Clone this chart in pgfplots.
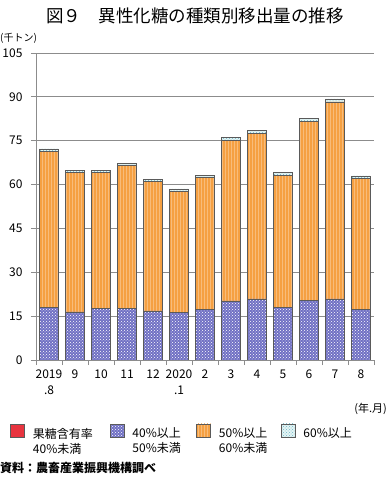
\documentclass[border=0pt]{standalone}
\usepackage{pgfplots}
\pgfplotsset{compat=1.18}
\usetikzlibrary{patterns}
\usepackage{fontspec}
\setmainfont{Noto Sans CJK JP}
\definecolor{gridc}{HTML}{8C8C8C}
\definecolor{redc}{HTML}{E8343F}
\definecolor{bluec}{HTML}{7070C4}
\definecolor{orangec}{HTML}{F5A042}
\definecolor{orangel}{HTML}{F8BC7A}
\definecolor{cyanf}{HTML}{E4F4F4}
\definecolor{cyanp}{HTML}{70B8C8}
\definecolor{edgec}{HTML}{5A5A5A}
\pgfplotsset{legsq/.style={legend image code/.code={\draw[##1] (0pt,-10.5pt) rectangle (14pt,2.5pt);}}}
\begin{document}
\begin{tikzpicture}[x=1pt,y=1pt]
\path[use as bounding box] (0,0) rectangle (388,479);
\begin{axis}[
  at={(36pt,119pt)}, anchor=south west,
  scale only axis, width=338pt, height=307pt,
  ybar stacked, bar width=19pt,
  xmin=-0.5, xmax=12.5, ymin=0, ymax=105,
  ytick={0,15,...,105},
  xtick={0,...,12},
  xticklabels={{2019\\.8},9,10,11,12,{2020\\.1},2,3,4,5,6,7,8},
  minor xtick={-0.5,0.5,...,12.5},
  tick align=outside,
  major tick length=5pt, minor tick length=5pt,
  major x tick style={draw=none},
  minor x tick style={draw=gridc, line width=0.8pt},
  y tick style={draw=gridc, line width=0.8pt},
  axis x line*=bottom, axis y line*=left,
  axis line style={draw=gridc, line width=0.8pt, -},
  ymajorgrids, grid style={draw=gridc, line width=0.8pt},
  /pgf/number format/assume math mode=true,
  yticklabel style={font=\fontsize{12}{13}\selectfont, xshift=-5pt},
  xticklabel style={font=\fontsize{12}{16}\selectfont, align=center, yshift=-1pt},
  legend columns=4,
  legend cell align=left,
  legend style={at={(axis description cs:-0.085,-0.2)}, anchor=north west,
    draw=none, fill=none, font=\fontsize{12}{15}\selectfont,
    cells={anchor=north west},
    nodes={align=left, inner sep=1.5pt},
    /tikz/every odd column/.style={column sep=6.5pt},
    /tikz/column 2/.style={column sep=13.5pt, nodes={text width=62pt}},
    /tikz/column 4/.style={column sep=12.5pt, nodes={text width=50pt}},
    /tikz/column 6/.style={column sep=10.5pt, nodes={text width=50pt}},
    /tikz/column 8/.style={nodes={text width=55pt}}},
]
\addplot[legsq, fill=redc, draw=edgec, line width=0.5pt] coordinates {
(0,0) (1,0) (2,0) (3,0) (4,0) (5,0) (6,0) (7,0) (8,0) (9,0) (10,0) (11,0) (12,0)};
\addlegendentry{果糖含有率\\40\%未満}
\addplot[legsq, fill=bluec, draw=edgec, line width=0.5pt, postaction={pattern=crosshatch dots, pattern color=white}] coordinates {
(0,18.0) (1,16.5) (2,17.7) (3,17.6) (4,16.8) (5,16.2) (6,17.3) (7,20.2) (8,20.9) (9,18.0) (10,20.3) (11,20.9) (12,17.3)};
\addlegendentry{40\%以上\\50\%未満}
\addplot[legsq, fill=orangec, draw=edgec, line width=0.5pt, postaction={pattern=vertical lines, pattern color=orangel}] coordinates {
(0,53.3) (1,47.7) (2,46.5) (3,49.0) (4,44.3) (5,41.6) (6,45.2) (7,55.0) (8,56.6) (9,45.2) (10,61.2) (11,67.4) (12,44.7)};
\addlegendentry{50\%以上\\60\%未満}
\addplot[legsq, fill=cyanf, draw=edgec, line width=0.5pt, postaction={pattern=crosshatch dots, pattern color=cyanp}] coordinates {
(0,0.9) (1,0.7) (2,0.7) (3,0.7) (4,0.7) (5,0.7) (6,0.7) (7,1.0) (8,1.1) (9,1.0) (10,1.2) (11,1.0) (12,1.0)};
\addlegendentry{60\%以上}
\end{axis}
\node[font=\fontsize{17.5}{18}\selectfont, anchor=center] at (195,463) {図９　異性化糖の種類別移出量の推移};
\node[anchor=west, inner sep=0pt, font=\fontsize{10}{11}\selectfont] at (0,441) {(千トン)};
\node[anchor=east, inner sep=0pt, font=\fontsize{11}{12}\selectfont] at (387,70) {(年.月)};
\node[anchor=west, inner sep=0pt, font=\fontsize{12}{13}\selectfont\bfseries] at (0,11) {資料：農畜産業振興機構調べ};
\end{tikzpicture}
\end{document}
